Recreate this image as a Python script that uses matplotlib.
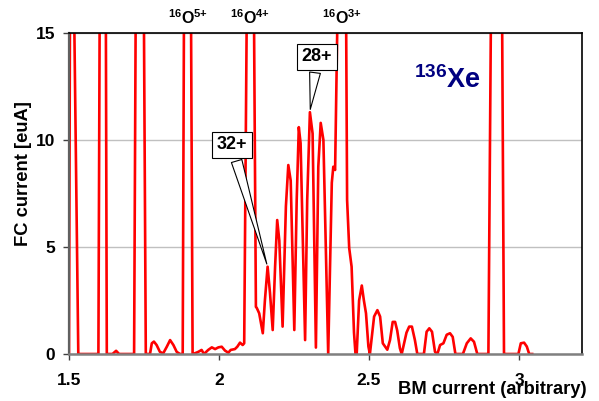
import matplotlib
matplotlib.use("Agg")
import matplotlib.pyplot as plt
from matplotlib.transforms import blended_transform_factory

# scan: BM current (arbitrary) against FC current [euA]
# (the big oxygen / contaminant peaks run off the top, only their flanks are known)
bm_current = [
    1.500, 1.503, 1.510, 1.518, 1.531, 1.560, 1.580,
    1.598, 1.602, 1.612, 1.623, 1.626,
    1.645, 1.657, 1.667, 1.700,
    1.717, 1.722, 1.737, 1.750, 1.756,
    1.770, 1.776, 1.783, 1.792, 1.803, 1.814, 1.826, 1.837, 1.848, 1.859, 1.870,
    1.879, 1.883, 1.895, 1.907, 1.912,
    1.914, 1.931, 1.942, 1.950, 1.964, 1.976, 1.987, 1.998, 2.009, 2.020,
    2.031, 2.039, 2.053, 2.061, 2.070, 2.079, 2.084,
    2.092, 2.103, 2.117, 2.123,
    2.126, 2.134, 2.146, 2.153, 2.162, 2.170, 2.179, 2.187, 2.194, 2.201,
    2.212, 2.223, 2.231, 2.239, 2.251, 2.259, 2.266, 2.272, 2.287, 2.294,
    2.303, 2.312, 2.323, 2.331, 2.339, 2.348, 2.364, 2.376, 2.381, 2.387,
    2.394, 2.410, 2.424, 2.427, 2.434, 2.442, 2.450, 2.455,
    2.459, 2.467, 2.476, 2.483, 2.490, 2.498, 2.503,
    2.517, 2.528, 2.537, 2.546, 2.561, 2.570, 2.579, 2.587, 2.594, 2.603, 2.609,
    2.625, 2.634, 2.643, 2.653, 2.661, 2.683,
    2.692, 2.701, 2.710, 2.720, 2.728,
    2.737, 2.748, 2.759, 2.770, 2.779, 2.788, 2.813,
    2.826, 2.839, 2.850, 2.861, 2.892,
    2.898, 2.906, 2.923, 2.944, 2.950,
    2.998, 3.006, 3.017, 3.026, 3.034, 3.044,
]
fc_current = [
    0.0, 15.0, 20.0, 15.0, 0.0, 0.0, 0.0,
    0.0, 15.0, 20.0, 15.0, 0.0,
    0.0, 0.15, 0.0, 0.0,
    0.0, 15.0, 20.0, 15.0, 0.0,
    0.0, 0.5, 0.58, 0.42, 0.1, 0.03, 0.34, 0.65, 0.42, 0.1, 0.0,
    0.0, 15.0, 20.0, 15.0, 0.0,
    0.0, 0.1, 0.19, 0.0, 0.19, 0.31, 0.23, 0.31, 0.34, 0.16,
    0.06, 0.19, 0.23, 0.34, 0.53, 0.42, 0.5,
    15.0, 20.0, 15.0, 2.2,
    2.15, 1.9, 0.97, 2.5, 4.08, 2.85, 1.12, 4.08, 6.26, 5.3,
    1.28, 6.9, 8.83, 8.1, 1.12, 7.2, 10.6, 9.85, 0.65, 7.2,
    11.3, 10.3, 0.3, 8.75, 10.8, 10.0, 0.0, 8.0, 8.75, 8.6,
    15.0, 20.0, 15.0, 7.2, 4.95, 4.08, 1.0, 0.0,
    0.0, 2.5, 3.2, 2.5, 1.9, 0.35, 0.0,
    1.75, 2.05, 1.75, 0.5, 0.2, 0.65, 1.5, 1.5, 1.1, 0.27, 0.0,
    1.0, 1.28, 1.28, 0.65, 0.0, 0.0,
    1.04, 1.2, 1.04, 0.1, 0.0,
    0.42, 0.5, 0.9, 0.97, 0.8, 0.0, 0.0,
    0.5, 0.73, 0.57, 0.0, 0.0,
    0.0, 15.0, 20.0, 15.0, 0.0,
    0.0, 0.5, 0.53, 0.35, 0.0, 0.0,
]

x_ticks = [1.5, 2, 2.5, 3]
x_tick_labels = ["1.5", "2", "2.5", "3"]
y_ticks = [0, 5, 10, 15]

oxygen_labels = [r"$^{16}$O$^{5{+}}$", r"$^{16}$O$^{4{+}}$", r"$^{16}$O$^{3{+}}$"]
oxygen_x = [1.897, 2.103, 2.41]

charge_labels = ["32+", "28+"]
charge_peak_x = [2.162, 2.303]
charge_peak_y = [4.08, 11.3]

plt.rcParams["font.family"] = ["Liberation Sans", "DejaVu Sans"]
plt.rcParams["font.weight"] = "bold"
plt.rcParams["mathtext.fontset"] = "custom"
plt.rcParams["mathtext.rm"] = "Liberation Sans:bold"
plt.rcParams["mathtext.bf"] = "Liberation Sans:bold"
plt.rcParams["mathtext.default"] = "bf"

fig = plt.figure(figsize=(5.99, 4.01), dpi=100)
ax = fig.add_axes([69 / 599, 1 - 354 / 401, 513 / 599, 321 / 401])

ax.plot(bm_current, fc_current, color="#ff0000", lw=1.9, solid_joinstyle="round")

ax.set_xlim(1.5, 3.21)
ax.set_ylim(0, 15)
ax.set_xticks(x_ticks)
ax.set_xticklabels(x_tick_labels)
ax.set_yticks(y_ticks)
ax.tick_params(axis="both", direction="out", length=4, width=1, color="#404040",
               labelsize=12.5)
ax.tick_params(axis="x", pad=10)
ax.tick_params(axis="y", pad=6)
ax.grid(axis="y", color="#c0c0c0", lw=1)

ax.spines["left"].set_color("#606060")
ax.spines["left"].set_linewidth(1.6)
ax.spines["bottom"].set_color("#808080")
ax.spines["bottom"].set_linewidth(1.8)
ax.spines["top"].set_linewidth(1.2)
ax.spines["right"].set_linewidth(1.2)
for sp in ax.spines.values():
    sp.set_zorder(3)

fig.text(587 / 599, 1 - 394 / 401, "BM current (arbitrary)", ha="right",
         va="baseline", fontsize=13.2, fontweight="bold")
fig.text(24 / 599, 1 - 174 / 401, "FC current [euA]", rotation=90, ha="center",
         va="center", fontsize=13.2, fontweight="bold")

# oxygen contaminant labels sit above the frame
trans = blended_transform_factory(ax.transData, fig.transFigure)
for lab, xo in zip(oxygen_labels, oxygen_x):
    ax.text(xo, 1 - 24 / 401, lab, transform=trans, ha="center", va="baseline",
            fontsize=11.5, fontweight="bold", clip_on=False)

ax.text(2.76, 12.8, r"$^{136}$Xe", color="#000080", fontsize=19.5,
        fontweight="bold", ha="center", va="center")

box = dict(boxstyle="square,pad=0.25", fc="white", ec="black", lw=0.8)
wedge = dict(arrowstyle="wedge,tail_width=0.6,shrink_factor=0.5", fc="white",
             ec="black", lw=0.8)
ax.annotate(charge_labels[0], xy=(charge_peak_x[0], charge_peak_y[0]),
            xytext=(2.043, 9.77), ha="center", va="center", fontsize=13,
            fontweight="bold", bbox=box, arrowprops=wedge, zorder=4)
ax.annotate(charge_labels[1], xy=(charge_peak_x[1], charge_peak_y[1]),
            xytext=(2.327, 13.9), ha="center", va="center", fontsize=13,
            fontweight="bold", bbox=box, arrowprops=wedge, zorder=4)

fig.savefig("out.png", dpi=100)
